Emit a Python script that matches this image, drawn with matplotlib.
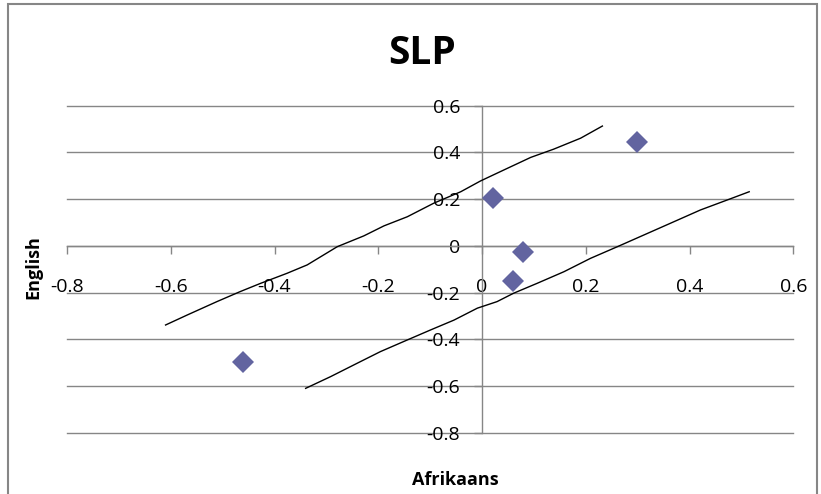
import matplotlib
matplotlib.use("Agg")
import matplotlib.pyplot as plt
from matplotlib.patches import Rectangle

# ---- data ----
afrikaans = [-0.460, 0.021, 0.079, 0.059, 0.299]
english = [-0.495, 0.207, -0.024, -0.150, 0.446]

upper_x = [-0.610, -0.568, -0.511, -0.466, -0.427, -0.376, -0.337, -0.279, -0.228, -0.189,
           -0.144, -0.093, -0.041, -0.003, 0.042, 0.094, 0.138, 0.190, 0.232]
upper_y = [-0.338, -0.295, -0.238, -0.195, -0.160, -0.117, -0.081, -0.003, 0.043, 0.086,
           0.125, 0.183, 0.232, 0.278, 0.325, 0.379, 0.414, 0.461, 0.513]

lower_x = [-0.340, -0.292, -0.241, -0.196, -0.144, -0.099, -0.054, -0.009, 0.029, 0.061,
           0.106, 0.158, 0.209, 0.261, 0.312, 0.363, 0.421, 0.473, 0.515]
lower_y = [-0.609, -0.559, -0.502, -0.452, -0.402, -0.359, -0.317, -0.266, -0.238, -0.202,
           -0.160, -0.110, -0.053, -0.003, 0.047, 0.097, 0.154, 0.197, 0.232]

x_ticks = [-0.8, -0.6, -0.4, -0.2, 0, 0.2, 0.4, 0.6]
x_labels = ["-0.8", "-0.6", "-0.4", "-0.2", "0", "0.2", "0.4", "0.6"]
y_ticks = [-0.8, -0.6, -0.4, -0.2, 0, 0.2, 0.4, 0.6]
y_labels = ["-0.8", "-0.6", "-0.4", "-0.2", "0", "0.2", "0.4", "0.6"]

title = "SLP"
x_title = "Afrikaans"
y_title = "English"

# ---- figure ----
plt.rcParams['font.family'] = ['Open Sans', 'DejaVu Sans']
W, H = 821, 494
fig = plt.figure(figsize=(W / 100, H / 100), dpi=100)
fig.patch.set_facecolor('white')

# chart border
fig.patches.append(Rectangle((8 / W, -0.01), (817 - 8) / W, 1 - 4 / H + 0.01,
                             transform=fig.transFigure, fill=False,
                             edgecolor='#868686', linewidth=1.5, zorder=0))

ax = fig.add_axes([67 / W, 1 - 433 / H, (793.3 - 67) / W, (433 - 105.7) / H])
ax.set_xlim(-0.8, 0.6)
ax.set_ylim(-0.8, 0.6)

grid_c = '#868686'
for sp in ['top', 'right']:
    ax.spines[sp].set_visible(False)
ax.spines['left'].set_position(('data', 0))
ax.spines['bottom'].set_position(('data', 0))
for sp in ['left', 'bottom']:
    ax.spines[sp].set_color(grid_c)
    ax.spines[sp].set_linewidth(1.0)

ax.set_yticks(y_ticks)
ax.set_yticklabels(y_labels)
ax.set_xticks(x_ticks)
ax.set_xticklabels(x_labels)
ax.yaxis.grid(True, color=grid_c, linewidth=1.0)
for gl in ax.get_ygridlines():
    gl.set_clip_on(False)
ax.set_axisbelow(True)
ax.tick_params(axis='x', direction='out', length=5.8, width=1.0, color=grid_c,
               labelsize=14, pad=17, labelcolor='black')
ax.tick_params(axis='y', direction='out', length=5.8, width=1.0, color=grid_c,
               labelsize=14, pad=10, labelcolor='black')

ax.plot(upper_x, upper_y, color='black', linewidth=1.0, zorder=3)
ax.plot(lower_x, lower_y, color='black', linewidth=1.0, zorder=3)
ax.plot(afrikaans, english, linestyle='none', marker='D', markersize=11,
        markerfacecolor='#6264a0', markeredgewidth=0, zorder=4)

fig.text(421.7 / W, 1 - 54 / H, title, fontsize=28, fontweight='bold',
         ha='center', va='center')
fig.text(455 / W, 1 - 480 / H, x_title, fontsize=13, fontweight='bold',
         ha='center', va='center')
fig.text(33 / W, 1 - 267 / H, y_title, fontsize=13, fontweight='bold',
         ha='center', va='center', rotation=90)

fig.savefig('out.png', dpi=100)
